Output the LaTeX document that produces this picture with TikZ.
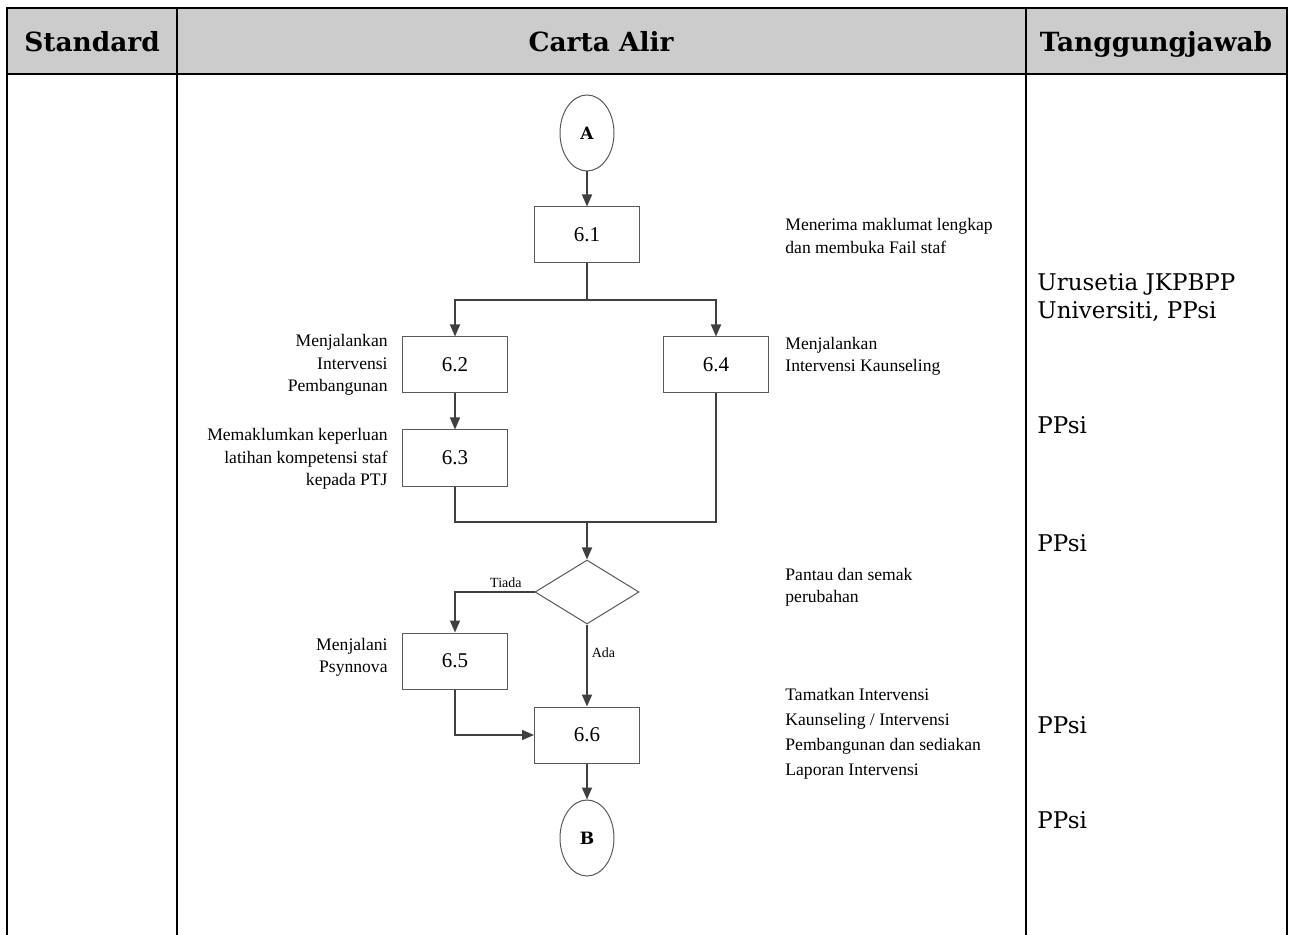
\documentclass[tikz,border=0pt]{standalone}
\usepackage{fontspec}
\setmainfont{Liberation Serif}
\newfontfamily\slabfont{DejaVu Serif}
\usetikzlibrary{shapes.geometric,arrows.meta}
\newlength{\du}
\setlength{\du}{0.5pt}

\begin{document}
\begin{tikzpicture}[
  tableline/.style={draw=black, line width=2.3\du},
  headtext/.style={anchor=base, inner sep=0pt, font=\slabfont\bfseries\fontsize{13.2}{15}\selectfont},
  resptext/.style={anchor=west, align=left, inner sep=0pt, font=\slabfont\fontsize{11.5}{14}\selectfont},
  steptext/.style={inner sep=0pt, font=\fontsize{8.8}{11.2}\selectfont},
  stepbox/.style={draw=boxcolor, line width=1\du, minimum width=105\du, minimum height=56\du, inner sep=0pt, font=\fontsize{10.5}{12}\selectfont},
  connector/.style={ellipse, draw=boxcolor, line width=1\du, minimum width=54\du, minimum height=76\du, inner sep=0pt, font=\slabfont\bfseries\fontsize{8.5}{10}\selectfont},
  decision/.style={diamond, draw=boxcolor, line width=1\du, minimum width=104\du, minimum height=64\du, inner sep=0pt},
  flowline/.style={draw=dialinecolor, line width=1.7\du},
  flowarrow/.style={flowline, -{Triangle[length=6pt,width=5pt]}},
  branchtext/.style={inner sep=2pt, font=\fontsize{7}{8}\selectfont}
]
\pgftransformxscale{1.000000}
\pgftransformyscale{-1.000000}
\definecolor{dialinecolor}{rgb}{0.250000, 0.250000, 0.250000}
\definecolor{boxcolor}{rgb}{0.350000, 0.350000, 0.350000}
\definecolor{headcolor}{rgb}{0.800000, 0.800000, 0.800000}
\useasboundingbox (0\du,0\du) rectangle (1290\du,935\du);
% header row
\fill[headcolor] (7\du,8\du) rectangle (1287\du,74\du);
\node[headtext] (hstd) at (92\du,52\du){Standard};
\node[headtext] (hcarta) at (601\du,52\du){Carta Alir};
\node[headtext] (htj) at (1156\du,52\du){Tanggungjawab};
% table lines
\draw[tableline] (7\du,935\du)--(7\du,8\du)--(1287\du,8\du)--(1287\du,935\du);
\draw[tableline] (7\du,74\du)--(1287\du,74\du);
\draw[tableline] (177\du,8\du)--(177\du,935\du);
\draw[tableline] (1026\du,8\du)--(1026\du,935\du);
% flow steps
\node[connector] (A) at (587\du,133\du){A};
\node[stepbox] (s61) at (587\du,235\du){6.1};
\coordinate (split) at (587\du,300\du);
\node[stepbox] (s62) at (455\du,365\du){6.2};
\node[stepbox] (s64) at (716\du,365\du){6.4};
\node[stepbox] (s63) at (455\du,458\du){6.3};
\coordinate (merge) at (587\du,522\du);
\node[decision] (chk) at (587\du,592\du){};
\node[stepbox] (s65) at (455\du,661\du){6.5};
\node[stepbox] (s66) at (587\du,735\du){6.6};
\node[connector] (B) at (587\du,838\du){B};
% connectors
\draw[flowarrow] (A)--(s61);
\draw[flowline] (s61)--(split);
\draw[flowarrow] (split)-|(s62);
\draw[flowarrow] (split)-|(s64);
\draw[flowarrow] (s62)--(s63);
\draw[flowline] (s63)|-(merge);
\draw[flowline] (s64)|-(merge);
\draw[flowarrow] (merge)--(chk);
\draw[flowarrow] (chk.west)-|node[branchtext,above,pos=0.18]{Tiada}(s65);
\draw[flowarrow] (chk.south)--node[branchtext,right,pos=0.34]{Ada}(s66);
\draw[flowarrow] (s65)|-(s66);
\draw[flowarrow] (s66)--(B);
% step notes, left
\node[steptext, anchor=east, align=right] (l62) at (388\du,365\du){Menjalankan\\Intervensi\\Pembangunan};
\node[steptext, anchor=east, align=right] (l63) at (388\du,459\du){Memaklumkan keperluan\\latihan kompetensi staf\\kepada PTJ};
\node[steptext, anchor=east, align=right] (l65) at (388\du,657\du){Menjalani\\Psynnova};
% step notes, right
\node[steptext, anchor=west, align=left] (l61) at (785\du,236\du){Menerima maklumat lengkap\\dan membuka Fail staf};
\node[steptext, anchor=west, align=left] (l64) at (785\du,356\du){Menjalankan\\Intervensi Kaunseling};
\node[steptext, anchor=west, align=left] (lchk) at (785\du,587\du){Pantau dan semak\\perubahan};
\node[steptext, anchor=west, align=left, font=\fontsize{8.8}{12.5}\selectfont] (l66) at (785\du,734\du){Tamatkan Intervensi\\Kaunseling / Intervensi\\Pembangunan dan sediakan\\Laporan Intervensi};
% tanggungjawab
\node[resptext] (r1) at (1037\du,298\du){Urusetia JKPBPP\\Universiti, PPsi};
\node[resptext] (r2) at (1037\du,425\du){PPsi};
\node[resptext] (r3) at (1037\du,543\du){PPsi};
\node[resptext] (r4) at (1037\du,725\du){PPsi};
\node[resptext] (r5) at (1037\du,820\du){PPsi};
\end{tikzpicture}
\end{document}
